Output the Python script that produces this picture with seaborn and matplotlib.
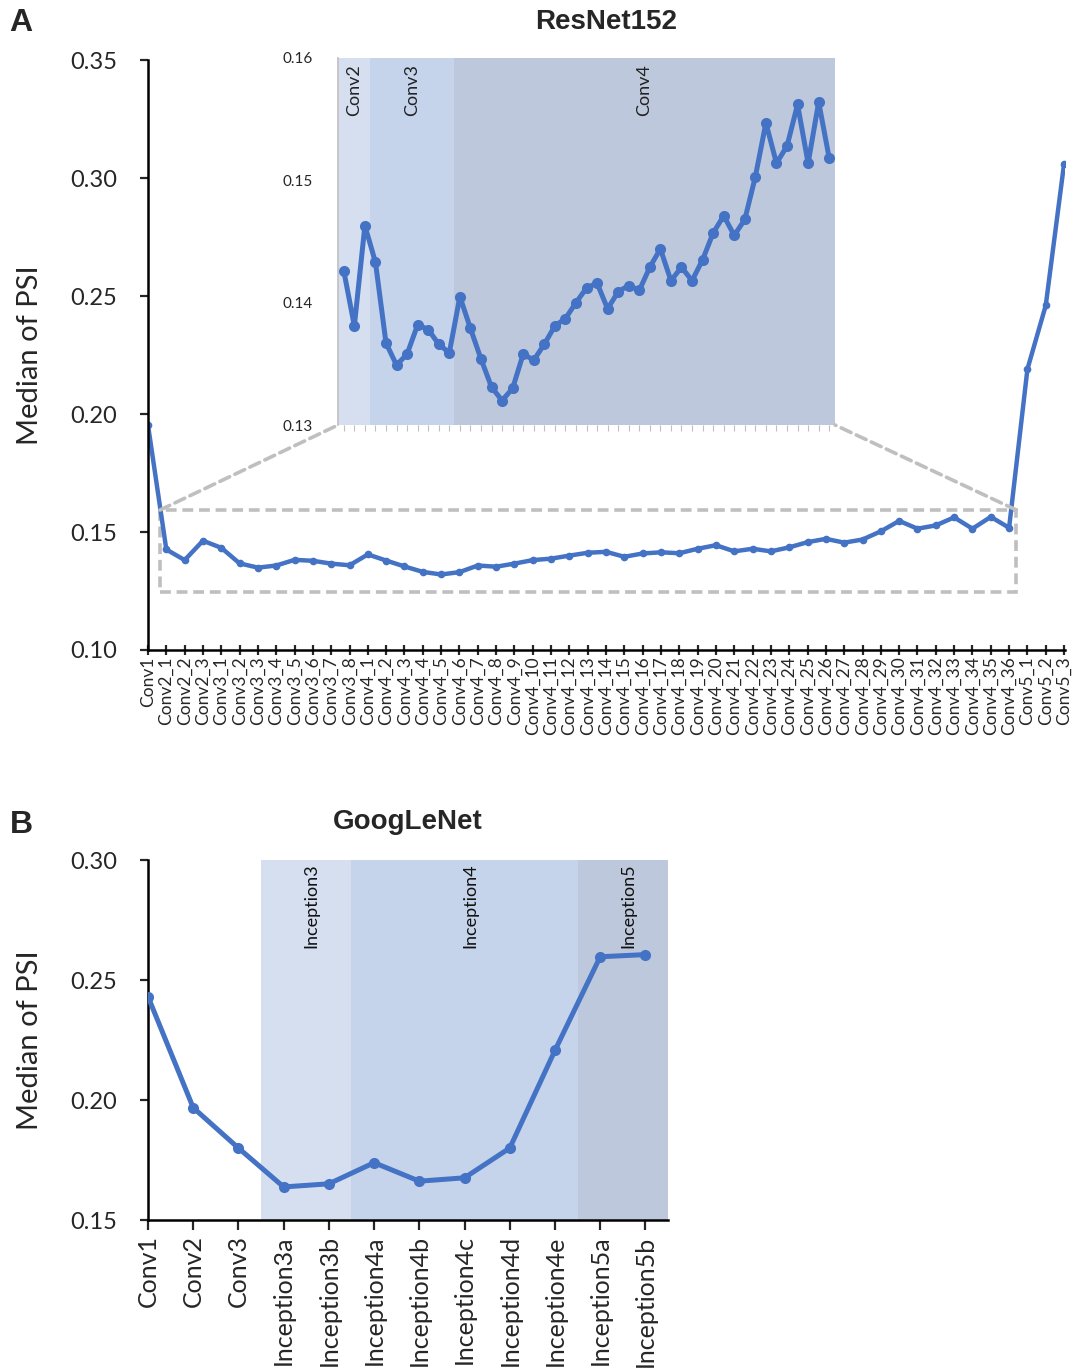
import matplotlib
matplotlib.use("Agg")
import matplotlib.pyplot as plt
from matplotlib.patches import Rectangle, ConnectionPatch
import numpy as np
import pandas as pd
import seaborn as sns

# ---- data -------------------------------------------------------------
resnet_layers = (["Conv1"]
                 + [f"Conv2_{i}" for i in range(1, 4)]
                 + [f"Conv3_{i}" for i in range(1, 9)]
                 + [f"Conv4_{i}" for i in range(1, 37)]
                 + [f"Conv5_{i}" for i in range(1, 4)])
resnet_psi = [
    0.1953,
    0.1426, 0.1381, 0.1463,
    0.1433, 0.1367, 0.1349, 0.1358, 0.1382, 0.1378, 0.1366, 0.1359,
    0.1405, 0.1379, 0.1354, 0.1331, 0.1320, 0.1330, 0.1358, 0.1353, 0.1366,
    0.1381, 0.1387, 0.1400, 0.1412, 0.1416, 0.1395, 0.1409, 0.1414, 0.1410,
    0.1429, 0.1444, 0.1418, 0.1429, 0.1418, 0.1435, 0.1457, 0.1471, 0.1455,
    0.1468, 0.1503, 0.1547, 0.1514, 0.1528, 0.1562, 0.1514, 0.1564, 0.1518,
    0.2190, 0.2460, 0.3060,
]
inset_groups = ["Conv2", "Conv3", "Conv4"]
inset_group_sizes = [3, 8, 36]

googlenet_layers = ["Conv1", "Conv2", "Conv3", "Inception3a", "Inception3b",
                    "Inception4a", "Inception4b", "Inception4c", "Inception4d",
                    "Inception4e", "Inception5a", "Inception5b"]
googlenet_psi = [0.2431, 0.1968, 0.1800, 0.1638, 0.1651, 0.1739,
                 0.1662, 0.1676, 0.1800, 0.2207, 0.2597, 0.2606]
googlenet_groups = ["Inception3", "Inception4", "Inception5"]
googlenet_group_spans = [(2.5, 4.5), (4.5, 9.5), (9.5, 11.5)]

# ---- style ------------------------------------------------------------
sns.set_style("ticks")
plt.rcParams["font.family"] = ["Lato", "DejaVu Sans"]

LINE = "#4472C4"
BANDS = ["#D6DFF0", "#C5D3EB", "#BDC8DC"]
GREY = "#BFBFBF"

df_res = pd.DataFrame({"idx": np.arange(len(resnet_layers)), "psi": resnet_psi})
df_goog = pd.DataFrame({"idx": np.arange(len(googlenet_layers)), "psi": googlenet_psi})

fig = plt.figure(figsize=(10.74, 13.71), dpi=100)

# ---- panel A: ResNet152 ----------------------------------------------
ax = fig.add_axes([0.1378, 0.5259, 0.8538, 0.4303])
sns.lineplot(data=df_res, x="idx", y="psi", ax=ax, color=LINE, lw=3.2,
             marker="o", markersize=5.5, markeredgewidth=0)
ax.set_xlim(0, len(resnet_layers) - 0.95)
ax.set_ylim(0.10, 0.35)
ax.set_yticks([0.10, 0.15, 0.20, 0.25, 0.30, 0.35])
ax.set_yticklabels([f"{v:.2f}" for v in ax.get_yticks()], fontsize=17)
ax.set_xticks(df_res["idx"])
ax.set_xticklabels(resnet_layers, rotation=90, fontsize=12.5)
ax.tick_params(axis="x", direction="inout", length=7, width=1.6, pad=1)
ax.tick_params(axis="y", direction="out", length=6, width=1.6, pad=16)
ax.set_xlabel("")
ax.set_ylabel("Median of PSI", fontsize=21, labelpad=20)
for s in ["left", "bottom"]:
    ax.spines[s].set_linewidth(1.8)
    ax.spines[s].set_color("black")
sns.despine(ax=ax)
ax.set_title("ResNet152", fontsize=20, fontweight="bold",
             family="Liberation Sans", pad=22)

# zoom box
box_x0, box_x1, box_y0, box_y1 = 0.65, 47.4, 0.1246, 0.1593
ax.add_patch(Rectangle((box_x0, box_y0), box_x1 - box_x0, box_y1 - box_y0,
                       fill=False, ec=GREY, lw=2.6, ls=(0, (3, 1.6)), zorder=1))

# inset
axin = fig.add_axes([0.3147, 0.69, 0.4628, 0.2677])
n_in = sum(inset_group_sizes)
df_in = df_res.iloc[1:1 + n_in].copy()
df_in["idx"] = np.arange(n_in)
start = -0.55
for name, size, col in zip(inset_groups, inset_group_sizes, BANDS):
    end = start + size if name != inset_groups[-1] else n_in - 0.45
    axin.axvspan(start, end, color=col, lw=0, zorder=0)
    axin.text((start + end) / 2, 0.1595, name, rotation=90, ha="center",
              va="top", fontsize=13, color="#222222")
    start = end
sns.lineplot(data=df_in, x="idx", y="psi", ax=axin, color=LINE, lw=3.6,
             marker="o", markersize=8, markeredgewidth=0, zorder=3)
axin.set_xlim(-0.55, n_in - 0.45)
axin.set_ylim(0.13, 0.16)
axin.set_yticks([0.13, 0.14, 0.15, 0.16])
axin.set_yticklabels(["0.13", "0.14", "0.15", "0.16"], fontsize=11)
axin.set_xticks(df_in["idx"])
axin.set_xticklabels([])
axin.set_xlabel("")
axin.set_ylabel("")
axin.tick_params(axis="x", direction="out", length=4, width=0.8, color=GREY)
axin.tick_params(axis="y", length=0, pad=18)
for s in ["top", "right", "bottom"]:
    axin.spines[s].set_visible(False)
axin.spines["left"].set_color(GREY)
axin.spines["left"].set_linewidth(1.2)

for (xa, xb) in [(box_x0, 0.0), (box_x1, 1.0)]:
    con = ConnectionPatch(xyA=(xa, box_y1), coordsA=ax.transData,
                          xyB=(xb, 0.0), coordsB=axin.transAxes,
                          color=GREY, lw=2.6, ls=(0, (3, 1.6)), zorder=1)
    fig.add_artist(con)

fig.text(0.009, 0.983, "A", fontsize=23, fontweight="bold",
         family="Liberation Sans", va="center")

# ---- panel B: GoogLeNet ----------------------------------------------
bx = fig.add_axes([0.1378, 0.1101, 0.4842, 0.2626])
for name, (s, e), col in zip(googlenet_groups, googlenet_group_spans, BANDS):
    bx.axvspan(s, e, color=col, lw=0, zorder=0)
    bx.text((s + e) / 2 + 0.12, 0.2985, name, rotation=90, ha="center",
            va="top", fontsize=13, color="#111111")
sns.lineplot(data=df_goog, x="idx", y="psi", ax=bx, color=LINE, lw=3.6,
             marker="o", markersize=8, markeredgewidth=0, zorder=3)
bx.set_xlim(0, len(googlenet_layers) - 0.5)
bx.set_ylim(0.15, 0.30)
bx.set_yticks([0.15, 0.20, 0.25, 0.30])
bx.set_yticklabels(["0.15", "0.20", "0.25", "0.30"], fontsize=17)
bx.set_xticks(df_goog["idx"])
bx.set_xticklabels(googlenet_layers, rotation=90, fontsize=18)
bx.tick_params(axis="x", direction="out", length=7, width=1.6, pad=4)
bx.tick_params(axis="y", direction="out", length=6, width=1.6, pad=16)
bx.set_xlabel("")
bx.set_ylabel("Median of PSI", fontsize=21, labelpad=20)
for s in ["left", "bottom"]:
    bx.spines[s].set_linewidth(1.8)
    bx.spines[s].set_color("black")
sns.despine(ax=bx)
bx.set_title("GoogLeNet", fontsize=20, fontweight="bold",
             family="Liberation Sans", pad=22)
fig.text(0.009, 0.398, "B", fontsize=23, fontweight="bold",
         family="Liberation Sans", va="center")

fig.savefig("out.png", dpi=100)
plt.close(fig)
